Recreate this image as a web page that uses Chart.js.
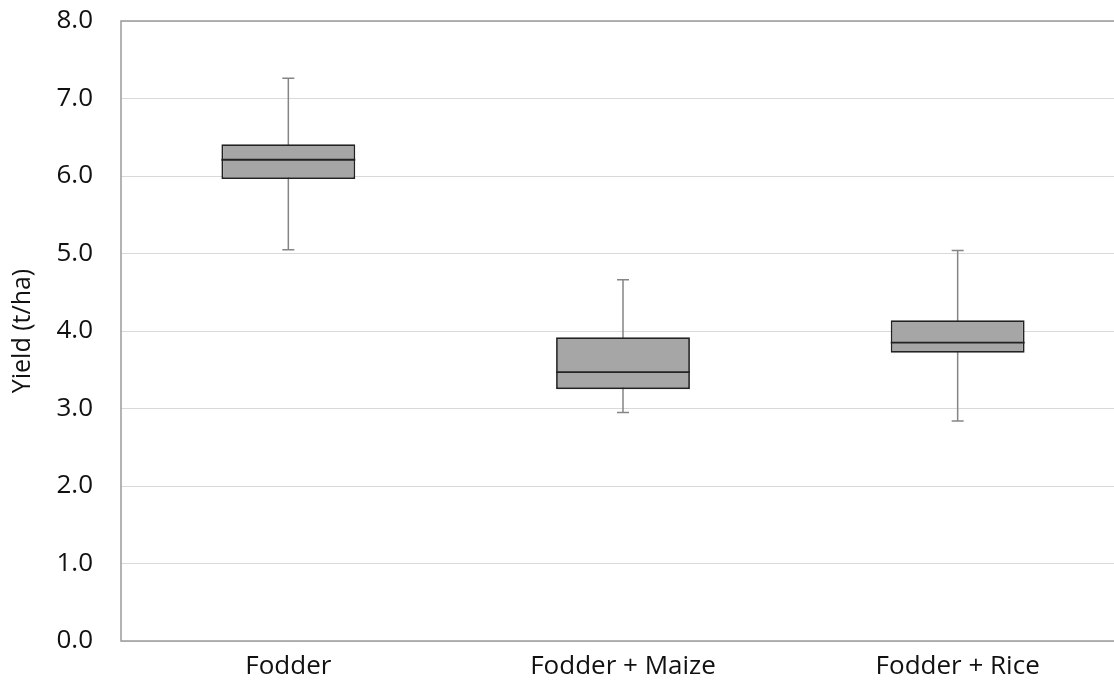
<!DOCTYPE html>
<html>
<head>
<meta charset="utf-8">
<script src="https://cdn.jsdelivr.net/npm/chart.js@4.4.1/dist/chart.umd.min.js"></script>
<style>
  html, body { margin: 0; padding: 0; background: #fff; overflow: hidden; }
  #wrap { width: 1145px; height: 698px; }
</style>
</head>
<body>
<div id="wrap"><canvas id="chart" width="1145" height="698"></canvas></div>
<script>
// データ
var categories = ["Fodder", "Fodder + Maize", "Fodder + Rice"];
var whiskerLow = [5.05, 2.95, 2.84];
var q1 = [5.96, 3.25, 3.72];
var median = [6.21, 3.47, 3.85];
var q3 = [6.41, 3.92, 4.14];
var whiskerHigh = [7.26, 4.66, 5.04];
var yTicks = [0, 1, 2, 3, 4, 5, 6, 7, 8];

var fontFamily = "'Open Sans', 'Noto Sans', sans-serif";

// 箱の部分はフローティングバーで描く
var boxData = [];
for (let i = 0; i < categories.length; i++) {
  boxData.push([q1[i], q3[i]]);
}

// ひげ（箱の後ろ）と中央値（箱の前）を描くプラグイン
var boxPlotParts = {
  id: 'boxPlotParts',
  beforeDatasetsDraw: function(chart) {
    var ctx = chart.ctx;
    var x = chart.scales.x;
    var y = chart.scales.y;
    ctx.save();
    ctx.strokeStyle = '#858585';
    ctx.lineWidth = 1.5;
    for (let i = 0; i < categories.length; i++) {
      var cx = x.getPixelForValue(i);
      var yLo = y.getPixelForValue(whiskerLow[i]);
      var yHi = y.getPixelForValue(whiskerHigh[i]);
      ctx.beginPath();
      ctx.moveTo(cx, yLo);
      ctx.lineTo(cx, yHi);
      ctx.moveTo(cx - 6, yLo);
      ctx.lineTo(cx + 6, yLo);
      ctx.moveTo(cx - 6, yHi);
      ctx.lineTo(cx + 6, yHi);
      ctx.stroke();
    }
    ctx.restore();
  },
  afterDatasetsDraw: function(chart) {
    var ctx = chart.ctx;
    var y = chart.scales.y;
    var bars = chart.getDatasetMeta(0).data;
    ctx.save();
    ctx.strokeStyle = '#222';
    ctx.lineWidth = 1.8;
    for (let i = 0; i < bars.length; i++) {
      var half = bars[i].width / 2;
      var my = y.getPixelForValue(median[i]);
      ctx.beginPath();
      ctx.moveTo(bars[i].x - half, my);
      ctx.lineTo(bars[i].x + half, my);
      ctx.stroke();
    }
    // プロットエリアの枠線
    var a = chart.chartArea;
    ctx.strokeStyle = '#9a9a9a';
    ctx.lineWidth = 1.5;
    ctx.strokeRect(a.left, a.top, a.right - a.left, a.bottom - a.top);
    ctx.restore();
  }
};

var ctx = document.getElementById('chart');
var chart = new Chart(ctx, {
  type: 'bar',
  data: {
    labels: categories,
    datasets: [{
      data: boxData,
      backgroundColor: '#a6a6a6',
      borderColor: '#222',
      borderWidth: 1.8,
      borderSkipped: false,
      barPercentage: 0.4,
      categoryPercentage: 1.0
    }]
  },
  options: {
    responsive: false,
    animation: false,
    layout: { padding: { top: 21, right: 20, left: 0, bottom: 0 } },
    plugins: {
      legend: { display: false },
      tooltip: { enabled: false }
    },
    scales: {
      x: {
        grid: { display: false, drawTicks: false },
        border: { display: false },
        ticks: {
          color: '#111',
          padding: 10,
          maxRotation: 0,
          font: { family: fontFamily, size: 26 }
        },
        afterFit: function(scale) {
          scale.height = 57;
          scale.paddingLeft = 0;
          scale.paddingRight = 0;
        }
      },
      y: {
        min: 0,
        max: 8,
        afterBuildTicks: function(scale) {
          scale.ticks = yTicks.map(function(v) { return { value: v }; });
        },
        grid: { color: '#d9d9d9', lineWidth: 1, drawTicks: false },
        border: { display: false },
        ticks: {
          color: '#111',
          padding: 28,
          font: { family: fontFamily, size: 26 },
          callback: function(value) { return Number(value).toFixed(1); }
        },
        title: {
          display: true,
          text: 'Yield (t/ha)',
          color: '#111',
          padding: { top: 8, bottom: 0 },
          font: { family: fontFamily, size: 25 }
        },
        afterFit: function(scale) {
          scale.width = 121;
          scale.paddingTop = 0;
          scale.paddingBottom = 0;
        }
      }
    }
  },
  plugins: [boxPlotParts]
});
</script>
</body>
</html>
